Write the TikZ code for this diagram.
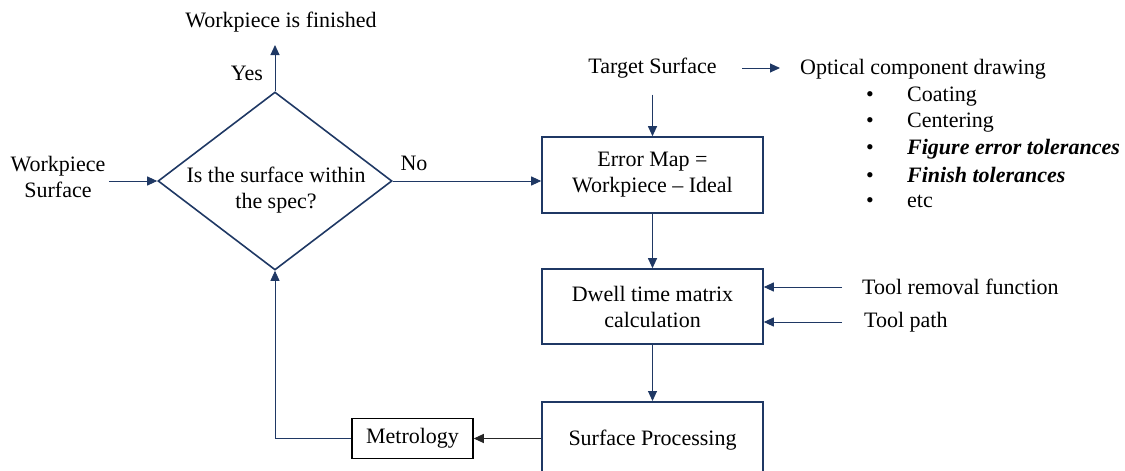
\documentclass[tikz,border=0pt]{standalone}
\usepackage{fontspec}
\setmainfont{Liberation Serif}
\usetikzlibrary{arrows.meta,shapes.geometric}
\definecolor{navy}{RGB}{31,56,100}
\begin{document}
\begin{tikzpicture}[x=1pt,y=-1pt,
  every node/.style={font=\fontsize{22}{26}\selectfont, text=black},
  box/.style={draw=navy, line width=1.6pt, minimum width=221pt, inner sep=0, align=center},
  arr/.style={draw=navy, line width=1pt, -{Triangle[length=10pt,width=9pt]}},
  blackarr/.style={draw=black!85, line width=1pt, -{Triangle[length=10pt,width=9pt]}},
  item/.style={anchor=west, inner sep=0},
]
\useasboundingbox (0,0) rectangle (1125,471);
% decision
\node[diamond, draw=navy, line width=1.6pt, minimum width=234pt, minimum height=178pt, inner sep=0] (dec) at (275,181) {};
\node[align=center] (dectext) at (276,190) {Is the surface within\\the spec?};
\node[align=center] (ws) at (58,177) {Workpiece\\Surface};
\node (wf) at (281,22) {Workpiece is finished};
\coordinate (yestip) at (275,45);
\node (yes) at (247,73) {Yes};
\node (no) at (414,163) {No};
% boxes
\node (ts) at (652.5,68) {Target Surface};
\node[item] (ocd) at (800,69) {Optical component drawing};
\node[item] (i1) at (866,97) {\makebox[41pt][l]{\textbullet}Coating};
\node[item] (i2) at (866,123) {\makebox[41pt][l]{\textbullet}Centering};
\node[item] (i3) at (866,149) {\makebox[41pt][l]{\textbullet}\textbf{\textit{Figure error tolerances}}};
\node[item] (i4) at (866,175) {\makebox[41pt][l]{\textbullet}\textbf{\textit{Finish tolerances}}};
\node[item] (i5) at (866,201) {\makebox[41pt][l]{\textbullet}etc};
\node[box, minimum height=76pt] (em) at (652.5,175) {Error Map =\\Workpiece – Ideal};
\node[box, minimum height=75pt] (dw) at (652.5,306.5) {Dwell time matrix\\calculation};
\node[item] (trf) at (862,287) {Tool removal function};
\node[item] (tp) at (864,322) {Tool path};
\node[box, minimum height=76pt, anchor=north] (sp) at (652.5,401) {Surface Processing};
\node[draw=black, line width=1.5pt, minimum width=121pt, minimum height=40pt, inner sep=0] (met) at (412.5,438.5) {Metrology};
% connectors
\draw[arr] (dec.north) -- (yestip);
\draw[arr] (ws.east |- dec.west) -- (dec.west);
\draw[arr] (dec.east) -- (dec.east -| em.west);
\draw[arr] ([yshift=-13pt]ts.south) -- (em.north);
\draw[arr, shorten <=22pt, shorten >=20pt] (ts.east) -- (ts.east -| ocd.west);
\draw[arr] (em.south) -- (dw.north);
\draw[arr] (dw.south) -- (sp.north);
\draw[arr] ([xshift=-20pt]trf.west) -- (trf.west -| dw.east);
\draw[arr] ([xshift=-22pt]tp.west) -- (tp.west -| dw.east);
\draw[blackarr] (sp.west |- met.east) -- (met.east);
\draw[arr, line width=0.8pt] (met.west) -| (dec.south);
\end{tikzpicture}
\end{document}
